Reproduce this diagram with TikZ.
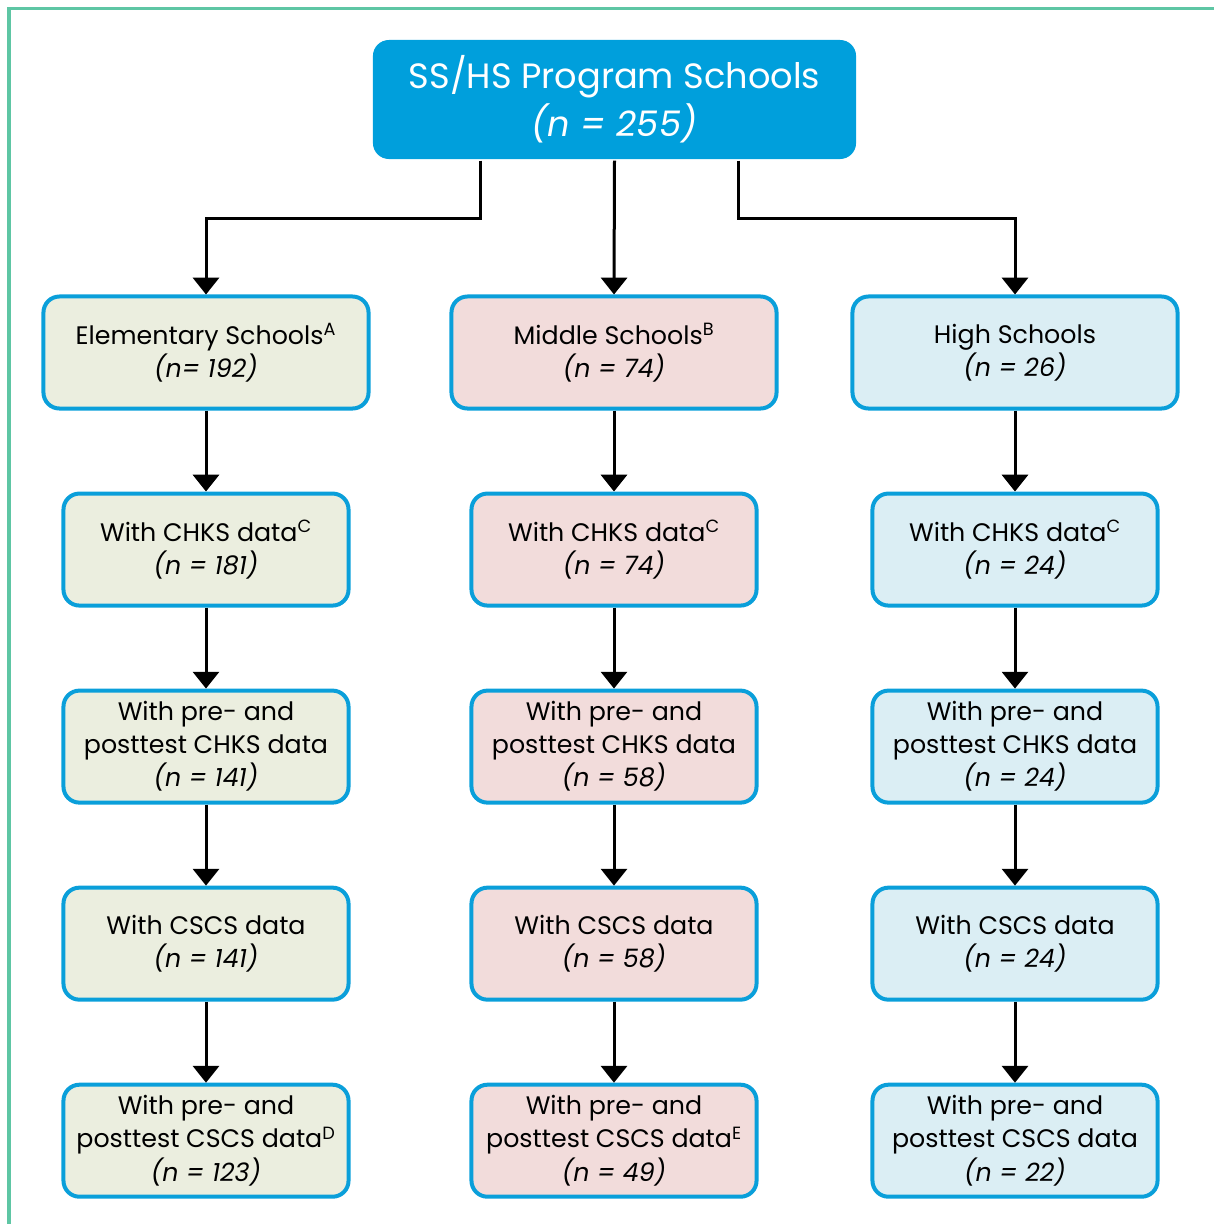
\documentclass[tikz,border=0pt]{standalone}
\usepackage{fontspec}
\setmainfont{Poppins}
\usetikzlibrary{arrows.meta,positioning}
\definecolor{boxblue}{HTML}{0A9FDA}
\definecolor{topblue}{HTML}{009FDC}
\definecolor{elemfill}{HTML}{EBEEDF}
\definecolor{midfill}{HTML}{F2DCDB}
\definecolor{highfill}{HTML}{DBEEF4}
\definecolor{framegreen}{HTML}{5EC6A4}

\begin{document}
\begin{tikzpicture}[x=0.025cm,y=-0.025cm,->,>={Triangle[width=0.65cm,length=0.42cm]},
                    line width=0.075cm,node distance=2.025cm]
  \tikzstyle{school}=[rectangle,rounded corners=0.4cm,draw=boxblue,line width=0.1cm,
                      align=center,inner sep=0pt,minimum height=2.8cm,minimum width=7.125cm,
                      font=\fontsize{18pt}{23.5pt}\selectfont]
  \tikzstyle{level}=[school,minimum width=8.125cm]
  \tikzstyle{program}=[rectangle,rounded corners=0.4cm,fill=topblue,text=white,align=center,
                       minimum width=12.075cm,minimum height=2.975cm,
                       font=\fontsize{25pt}{34pt}\selectfont]

  \useasboundingbox (0,0) rectangle (1214,1224);
  \draw[-,framegreen] (9,1224) -- (9,8) -- (1214,8);

  \node[program] (top) at (614.5,99.5) {SS/HS Program Schools\\\textit{(n = 255)}};

  \node[level,fill=elemfill] (elem) at (206,352.5) {Elementary Schools\textsuperscript{A}\\\textit{(n= 192)}};
  \node[level,fill=midfill]  (mid)  at (614,352.5) {Middle Schools\textsuperscript{B}\\\textit{(n = 74)}};
  \node[level,fill=highfill] (high) at (1015,352.5) {High Schools\\\textit{(n = 26)}};

  \node[school,fill=elemfill] (elemchks) [below=of elem] {With CHKS data\textsuperscript{C}\\\textit{(n = 181)}};
  \node[school,fill=midfill]  (midchks)  [below=of mid]  {With CHKS data\textsuperscript{C}\\\textit{(n = 74)}};
  \node[school,fill=highfill] (highchks) [below=of high] {With CHKS data\textsuperscript{C}\\\textit{(n = 24)}};

  \node[school,fill=elemfill] (elemprechks) [below=of elemchks] {With pre- and\\posttest CHKS data\\\textit{(n = 141)}};
  \node[school,fill=midfill]  (midprechks)  [below=of midchks]  {With pre- and\\posttest CHKS data\\\textit{(n = 58)}};
  \node[school,fill=highfill] (highprechks) [below=of highchks] {With pre- and\\posttest CHKS data\\\textit{(n = 24)}};

  \node[school,fill=elemfill] (elemcscs) [below=of elemprechks] {With CSCS data\\\textit{(n = 141)}};
  \node[school,fill=midfill]  (midcscs)  [below=of midprechks]  {With CSCS data\\\textit{(n = 58)}};
  \node[school,fill=highfill] (highcscs) [below=of highprechks] {With CSCS data\\\textit{(n = 24)}};

  \node[school,fill=elemfill] (elemprecscs) [below=of elemcscs] {With pre- and\\posttest CSCS data\textsuperscript{D}\\\textit{(n = 123)}};
  \node[school,fill=midfill]  (midprecscs)  [below=of midcscs]  {With pre- and\\posttest CSCS data\textsuperscript{E}\\\textit{(n = 49)}};
  \node[school,fill=highfill] (highprecscs) [below=of highcscs] {With pre- and\\posttest CSCS data\\\textit{(n = 22)}};

  \draw ([xshift=-3.34cm]top.south) -- ++(0,58) -| (elem.north);
  \draw (top.south) -- (mid.north);
  \draw ([xshift=3.11cm]top.south) -- ++(0,58) -| (high.north);

  \path (elem) edge (elemchks)
        (elemchks) edge (elemprechks)
        (elemprechks) edge (elemcscs)
        (elemcscs) edge (elemprecscs);
  \path (mid) edge (midchks)
        (midchks) edge (midprechks)
        (midprechks) edge (midcscs)
        (midcscs) edge (midprecscs);
  \path (high) edge (highchks)
        (highchks) edge (highprechks)
        (highprechks) edge (highcscs)
        (highcscs) edge (highprecscs);
\end{tikzpicture}
\end{document}
